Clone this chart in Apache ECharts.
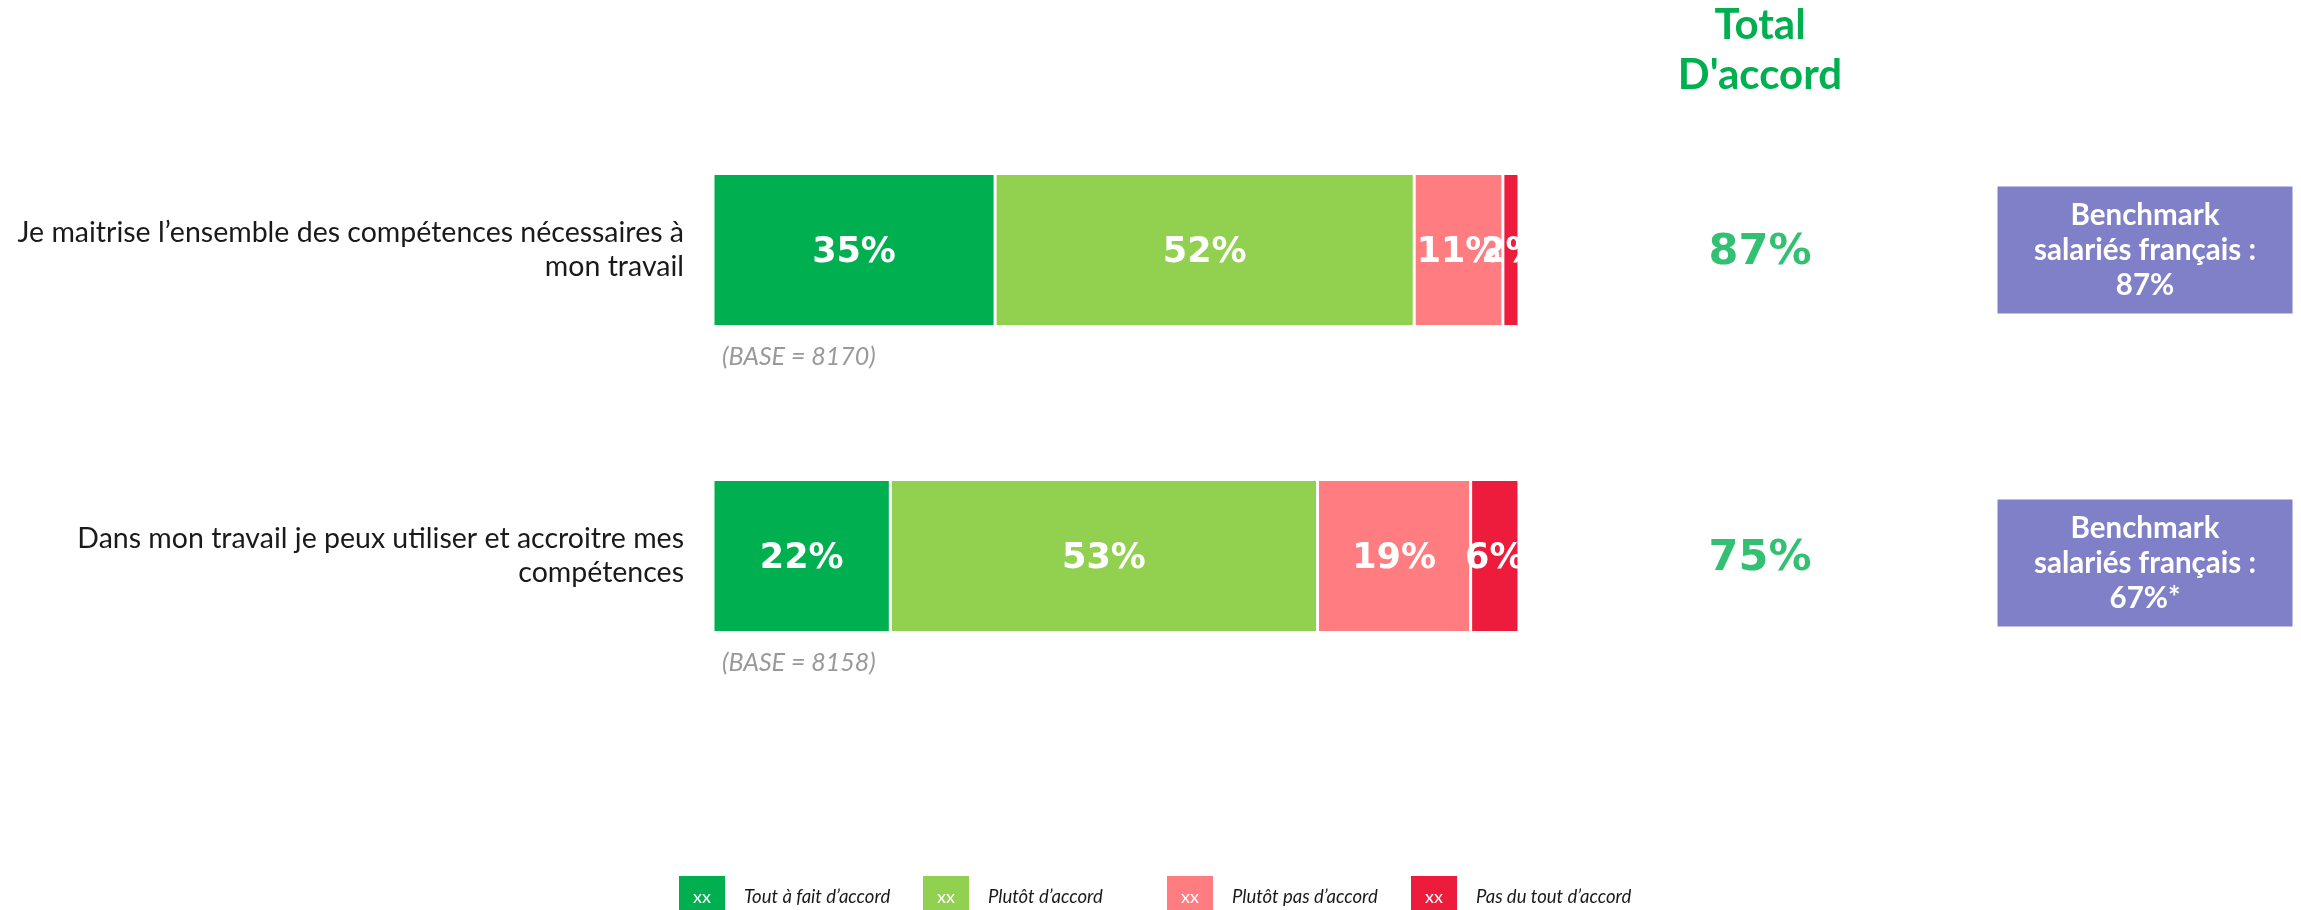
<!DOCTYPE html>
<html>
<head>
<meta charset="utf-8">
<title>Compétences - accord</title>
<script src="https://cdn.jsdelivr.net/npm/echarts@6/dist/echarts.min.js"></script>
<style>
    html, body { margin: 0; padding: 0; background: #fff; }
    #competences_chart { width: 2301px; height: 910px; }
</style>
</head>
<body>
<div id="competences_chart"></div>
<script>

// Data
// ------------------------------

var categories = [
    'Je maitrise l’ensemble des compétences nécessaires à\nmon travail',
    'Dans mon travail je peux utiliser et accroitre mes\ncompétences'
];
var seriesNames = ['Tout à fait d’accord', 'Plutôt d’accord', 'Plutôt pas d’accord', 'Pas du tout d’accord'];
var toutAFait = [35, 22];
var plutot = [52, 53];
var plutotPas = [11, 19];
var pasDuTout = [2, 6];
var bases = [8170, 8158];
var totalAccord = [87, 75];
var benchmark = ['87%', '67%*'];
var sideColumns = ['Total D\'accord', 'Benchmark'];

var colors = ['#00B050', '#92D050', '#FF7C80', '#EE1C3C'];


// Layout
// ------------------------------

var gridTop = 97;
var gridBottom = 201;
var legendLeft = 669;
var legendStep = 244;


// Chart
// ------------------------------

var chart_element = document.getElementById('competences_chart');
var chart = echarts.init(chart_element, null, { renderer: 'canvas' });

// Stacked bar segment
var barSeries = function(name, values, color) {
    return {
        name: name,
        type: 'bar',
        stack: 'accord',
        barWidth: '50%',
        xAxisIndex: 0,
        yAxisIndex: 0,
        itemStyle: {
            color: color,
            borderColor: '#fff',
            borderWidth: 1.5
        },
        label: {
            show: true,
            position: 'inside',
            offset: [0, 3],
            formatter: '{c}%',
            color: '#fff',
            fontFamily: 'DejaVu Sans',
            fontWeight: 'bold',
            fontSize: 35
        },
        emphasis: { disabled: true },
        data: values
    };
};

// One legend per entry, so the columns are evenly spaced like the original
var legends = seriesNames.map(function(name, i) {
    return {
        left: legendLeft + i * legendStep,
        top: 871,
        icon: 'none',
        itemWidth: 0,
        itemHeight: 0,
        selectedMode: false,
        data: [name],
        formatter: '{b|xx}{t|{name}}',
        textStyle: {
            rich: {
                b: {
                    width: 46,
                    height: 42,
                    lineHeight: 42,
                    align: 'center',
                    backgroundColor: colors[i],
                    color: '#fff',
                    fontFamily: 'Lato',
                    fontSize: 18
                },
                t: {
                    align: 'left',
                    padding: [0, 0, 0, 19],
                    fontFamily: 'Lato',
                    fontStyle: 'italic',
                    fontSize: 18.5,
                    color: '#1a1a1a'
                }
            }
        }
    };
});

chart.setOption({
    animation: false,

    textStyle: {
        fontFamily: 'Lato'
    },

    grid: [
        { left: 713, right: 782, top: gridTop, bottom: gridBottom },
        { left: 1760, right: 156, top: gridTop, bottom: gridBottom }
    ],

    legend: legends,

    xAxis: [
        {
            type: 'value',
            gridIndex: 0,
            min: 0,
            max: 100,
            show: false
        },
        {
            type: 'category',
            gridIndex: 1,
            position: 'top',
            boundaryGap: false,
            data: sideColumns,
            axisLine: { show: false },
            axisTick: { show: false },
            splitLine: { show: false },
            axisLabel: {
                interval: 0,
                margin: -3,
                color: '#00B050',
                fontFamily: 'Lato',
                fontWeight: 'bold',
                fontSize: 42,
                lineHeight: 50,
                formatter: function(value, index) {
                    return index === 0 ? value.replace(' ', '\n') : '';
                }
            }
        }
    ],

    yAxis: [
        {
            type: 'category',
            gridIndex: 0,
            inverse: true,
            data: categories,
            axisLine: { show: false },
            axisTick: { show: false },
            axisLabel: {
                margin: 29,
                color: '#1a1a1a',
                fontFamily: 'Lato',
                fontSize: 28.5,
                lineHeight: 34
            }
        },
        {
            type: 'category',
            gridIndex: 1,
            inverse: true,
            data: categories,
            show: false
        }
    ],

    series: [
        barSeries(seriesNames[0], toutAFait, colors[0]),
        barSeries(seriesNames[1], plutot, colors[1]),
        barSeries(seriesNames[2], plutotPas, colors[2]),
        barSeries(seriesNames[3], pasDuTout, colors[3]),

        // Base sizes under each bar
        {
            type: 'scatter',
            xAxisIndex: 0,
            yAxisIndex: 0,
            symbolSize: 0,
            silent: true,
            label: {
                show: true,
                position: 'right',
                distance: 0,
                offset: [9, 107],
                color: '#808080',
                fontFamily: 'Lato',
                fontStyle: 'italic',
                fontSize: 25,
                formatter: function(p) {
                    return '(BASE = ' + bases[p.dataIndex] + ')';
                }
            },
            data: bases.map(function(b, i) { return [0, i]; })
        },

        // Total d'accord column
        {
            type: 'scatter',
            xAxisIndex: 1,
            yAxisIndex: 1,
            symbolSize: 0,
            silent: true,
            label: {
                show: true,
                position: 'inside',
                offset: [0, 3],
                color: '#00B050',
                fontFamily: 'DejaVu Sans',
                fontWeight: 'bold',
                fontSize: 43,
                formatter: function(p) {
                    return totalAccord[p.dataIndex] + '%';
                }
            },
            data: totalAccord.map(function(v, i) { return [0, i]; })
        },

        // Benchmark boxes
        {
            type: 'scatter',
            xAxisIndex: 1,
            yAxisIndex: 1,
            symbol: 'rect',
            symbolSize: [295, 127],
            silent: true,
            itemStyle: {
                color: '#8080C8',
                opacity: 1
            },
            label: {
                show: true,
                position: 'inside',
                color: '#fff',
                fontFamily: 'Lato',
                fontWeight: 'bold',
                fontSize: 29.5,
                lineHeight: 35,
                formatter: function(p) {
                    return 'Benchmark\nsalariés français :\n' + benchmark[p.dataIndex];
                }
            },
            emphasis: { disabled: true },
            data: benchmark.map(function(v, i) {
                return { value: [1, i], symbolOffset: [0, i * 7] };
            })
        }
    ]
});

// Clip the bar labels that run past the end of the 100% scale
var barEnd = chart.convertToPixel({ xAxisIndex: 0 }, 100);
chart.setOption({
    graphic: [{
        type: 'rect',
        silent: true,
        z: 100,
        shape: { x: barEnd + 1, y: gridTop, width: 80, height: 910 - gridTop - gridBottom },
        style: { fill: '#fff' }
    }]
});

</script>
</body>
</html>
